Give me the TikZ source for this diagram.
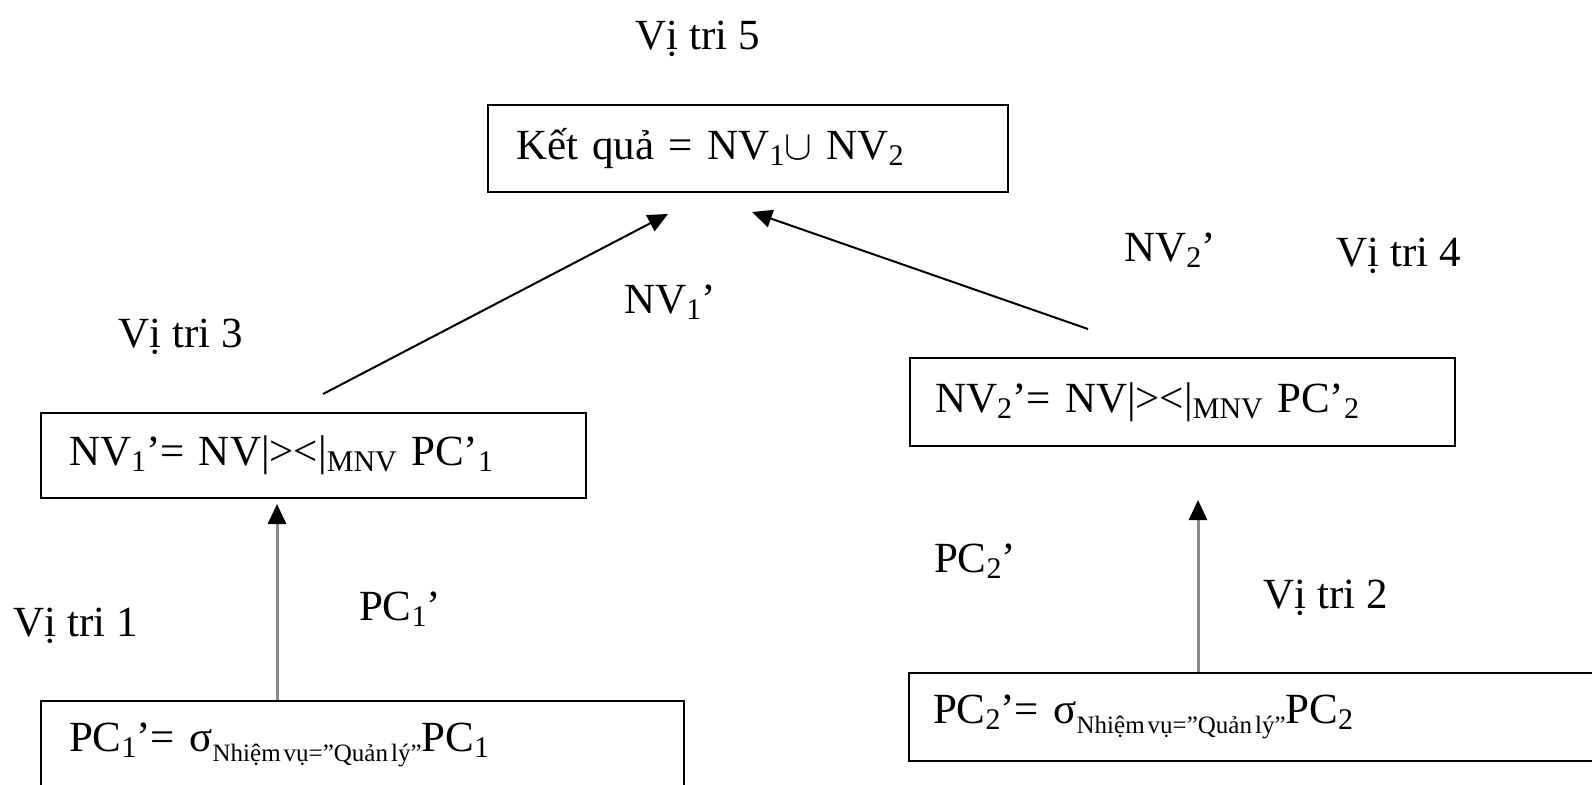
\documentclass[tikz,border=0pt]{standalone}
\usepackage{fontspec}
\setmainfont{Liberation Serif}
\usetikzlibrary{arrows.meta}

% lowered indices as the picture prints them
\newcommand{\lo}[1]{\raisebox{-0.3ex}{\fontsize{15}{15}\selectfont #1}}
\newcommand{\cond}[1]{\raisebox{-0.5ex}{\fontsize{12.5}{12.5}\selectfont\spaceskip=0.12em #1}}

\tikzset{
  every picture/.style={x=0.5pt, y=-0.5pt, font=\fontsize{21.5}{26}\selectfont},
  box/.style={draw, line width=1pt, anchor=north west, align=left, inner ysep=0pt},
  lbl/.style={inner sep=0pt},
  arrow/.style={-{Triangle[length=10pt, width=9pt]}, line width=1pt},
  uparrow/.style={-{Triangle[length=10pt, width=9pt, color=black]}, draw=black!45, line width=1.5pt},
}

\begin{document}
\begin{tikzpicture}
  \useasboundingbox (0,0) rectangle (1592,784);

  % boxes
  \node[box, inner xsep=14pt, text width=232pt, minimum height=43.5pt] (kq) at (487,104)
    {Kết quả = NV\lo{1}$\cup$ NV\lo{2}};
  \node[box, inner xsep=14pt, text width=244.5pt, minimum height=42.5pt] (nv1) at (40,412)
    {NV\lo{1}’= NV|><|\lo{MNV} PC’\lo{1}};
  \node[box, inner xsep=12.5pt, text width=247.5pt, minimum height=44pt] (nv2) at (909,357)
    {NV\lo{2}’= NV|><|\lo{MNV} PC’\lo{2}};
  \node[box, inner xsep=14pt, text width=293.5pt, minimum height=44pt] (pc1) at (40,700)
    {PC\lo{1}’= σ\cond{Nhiệm vụ=”Quản lý”}PC\lo{1}};
  \node[box, inner xsep=12pt, text width=336pt, minimum height=44pt] (pc2) at (908,672)
    {PC\lo{2}’= σ\cond{Nhiệm vụ=”Quản lý”}PC\lo{2}};

  % labels
  \node[lbl] (vt5) at (698,39) {Vị tri 5};
  \node[lbl] (vt4) at (1399,256) {Vị tri 4};
  \node[lbl] (vt3) at (181,337) {Vị tri 3};
  \node[lbl] (vt2) at (1326,598) {Vị tri 2};
  \node[lbl] (vt1) at (76,626) {Vị tri 1};
  \node[lbl] (lnv1) at (670,302) {NV\lo{1}’};
  \node[lbl] (lnv2) at (1170,250) {NV\lo{2}’};
  \node[lbl] (lpc1) at (400,609) {PC\lo{1}’};
  \node[lbl] (lpc2) at (975,561) {PC\lo{2}’};

  % connectors
  \coordinate (s1) at (323,394);
  \coordinate (e1) at (668,214);
  \coordinate (s2) at (1088,329);
  \coordinate (e2) at (752,212);
  \coordinate (u1) at (277,504);
  \coordinate (u2) at (1198,500);
  \draw[arrow] (s1) -- (e1);
  \draw[arrow] (s2) -- (e2);
  \draw[uparrow] (pc1.north -| u1) -- (u1);
  \draw[uparrow] (pc2.north -| u2) -- (u2);
\end{tikzpicture}
\end{document}
